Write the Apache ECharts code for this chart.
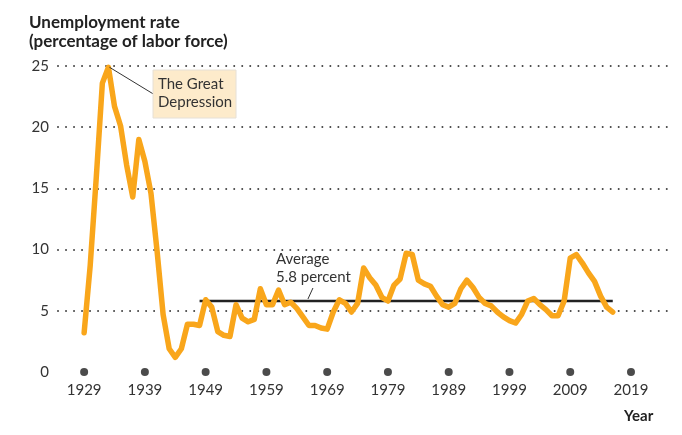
<!DOCTYPE html>
<html>
<head>
<meta charset="utf-8">
<script src="https://cdn.jsdelivr.net/npm/echarts@6/dist/echarts.min.js"></script>
<style>
html,body{margin:0;padding:0;background:#fff;}
#chart{width:682px;height:435px;}
</style>
</head>
<body>
<div id="chart"></div>
<script>
// 数据
var years=[];
for(var y=1929;y<=2016;y++){years.push(y);}
var rates=[3.2,8.7,15.9,23.6,24.9,21.7,20.1,16.9,14.3,19.0,
	17.2,14.6,9.9,4.7,1.9,1.2,1.9,3.9,3.9,3.8,
	5.9,5.3,3.3,3.0,2.9,5.5,4.4,4.1,4.3,6.8,
	5.5,5.5,6.7,5.5,5.7,5.2,4.5,3.8,3.8,3.6,
	3.5,4.9,5.9,5.6,4.9,5.6,8.5,7.7,7.1,6.1,
	5.8,7.1,7.6,9.7,9.6,7.5,7.2,7.0,6.2,5.5,
	5.3,5.6,6.8,7.5,6.9,6.1,5.6,5.4,4.9,4.5,
	4.2,4.0,4.7,5.8,6.0,5.5,5.1,4.6,4.6,5.8,
	9.3,9.6,8.9,8.1,7.4,6.2,5.3,4.9];
var tickYears=[1929,1939,1949,1959,1969,1979,1989,1999,2009,2019];
var avgYears=[1948,2016];
var avgValue=5.8;
var peakYear=1933;
var peakValue=24.9;

var font='Lato, "Open Sans", sans-serif';

var lineData=[];
for(var i=0;i<years.length;i++){
	lineData.push([years[i],rates[i]]);
}
var dotData=[];
for(var j=0;j<tickYears.length;j++){
	dotData.push([tickYears[j],0]);
}

var option={
	animation:false,
	title:{
		text:'Unemployment rate\n(percentage of labor force)',
		left:24,
		top:8,
		textStyle:{fontFamily:font,fontSize:17,fontWeight:'bold',color:'#222',lineHeight:19}
	},
	grid:{left:58,right:10,top:66,bottom:63},
	xAxis:{
		type:'value',
		min:1924.7,
		max:2025.75,
		axisLine:{show:false},
		axisTick:{show:false},
		splitLine:{show:false},
		axisLabel:{
			customValues:tickYears,
			formatter:function(v){return String(v);},
			margin:11,
			fontFamily:font,
			fontSize:15,
			color:'#333'
		}
	},
	yAxis:{
		type:'value',
		min:0,
		max:25,
		interval:5,
		axisLine:{show:false},
		axisTick:{show:false},
		axisLabel:{margin:9,fontFamily:font,fontSize:15,color:'#333'},
		splitLine:{
			lineStyle:{
				color:['rgba(0,0,0,0)','#444','#444','#444','#444','#444'],
				width:2,
				type:[0.01,8],
				cap:'round'
			}
		}
	},
	series:[
		{
			name:'平均',
			type:'line',
			data:[[avgYears[0],avgValue],[avgYears[1],avgValue]],
			symbol:'none',
			lineStyle:{color:'#222',width:2.5},
			z:2
		},
		{
			name:'失业率',
			type:'line',
			data:lineData,
			symbol:'none',
			lineStyle:{color:'#f9a61b',width:5.5,join:'round',cap:'round'},
			z:3
		},
		{
			name:'刻度点',
			type:'scatter',
			data:dotData,
			symbol:'circle',
			symbolSize:8,
			itemStyle:{color:'#1e1e1e'},
			clip:false,
			z:4
		}
	]
};

var myChart=echarts.init(document.getElementById('chart'));
myChart.setOption(option);

// 注释
var peak=myChart.convertToPixel({gridIndex:0},[peakYear,peakValue]);
var avgPt=myChart.convertToPixel({gridIndex:0},[1966,avgValue]);
myChart.setOption({
	graphic:[
		{type:'line',shape:{x1:peak[0]+1,y1:peak[1],x2:155,y2:95},style:{stroke:'#333',lineWidth:1},z:10},
		{type:'rect',shape:{x:153,y:70,width:83,height:48},style:{fill:'#fdebcb',stroke:'#e6e0d6',lineWidth:1},z:10},
		{type:'text',left:158,top:75,style:{text:'The Great\nDepression',fontFamily:font,fontSize:15,lineHeight:18,fill:'#333'},z:11},
		{type:'text',left:276,top:250,style:{text:'Average\n5.8 percent',fontFamily:font,fontSize:15,lineHeight:18,fill:'#333'},z:11},
		{type:'line',shape:{x1:avgPt[0]-1,y1:avgPt[1]-2,x2:avgPt[0]+4,y2:avgPt[1]-13},style:{stroke:'#333',lineWidth:1},z:11},
		{type:'text',left:624,top:409,style:{text:'Year',fontFamily:font,fontSize:15,fontWeight:'bold',fill:'#222'},z:11}
	]
});
</script>
</body>
</html>
